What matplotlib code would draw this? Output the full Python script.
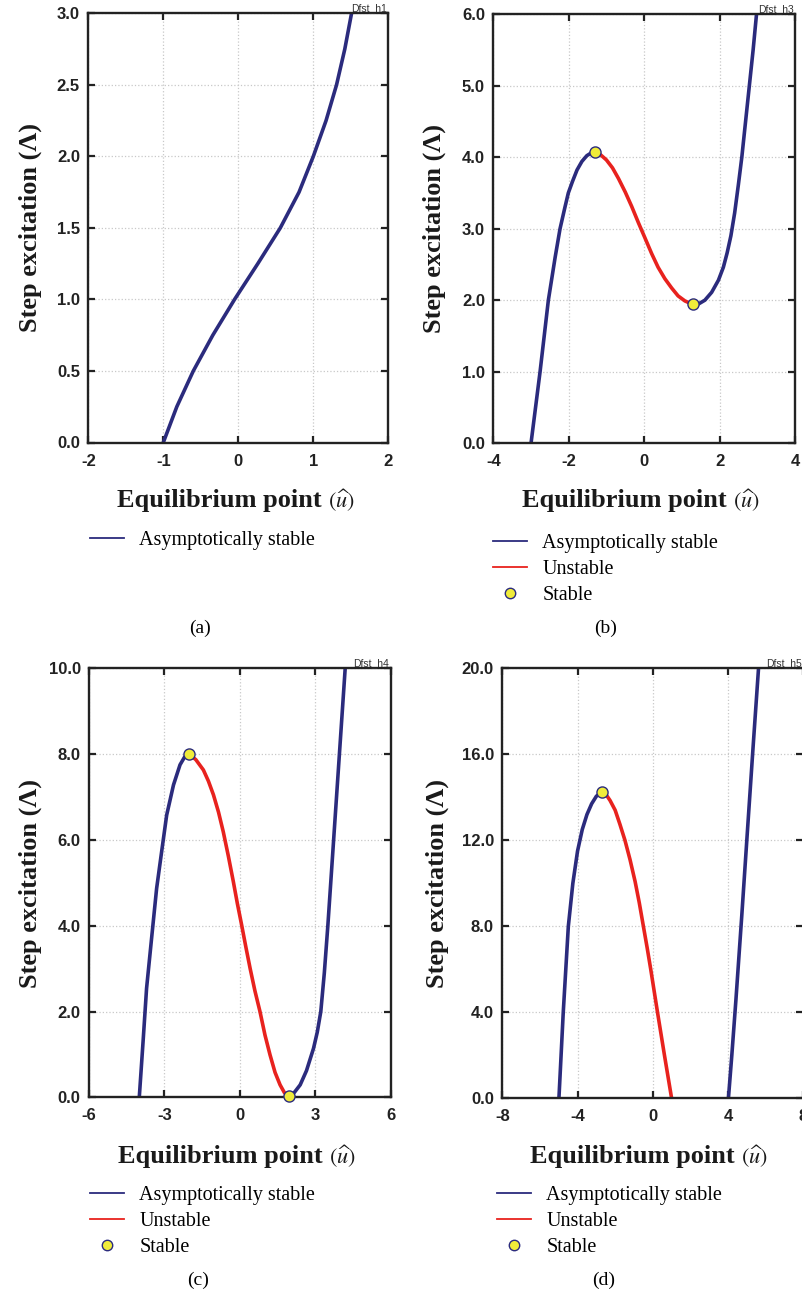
import matplotlib
matplotlib.use("Agg")
import matplotlib.pyplot as plt
from matplotlib.lines import Line2D
from matplotlib.offsetbox import TextArea, HPacker, AnchoredOffsetbox

plt.rcParams['mathtext.fontset'] = 'stix'

# ---------------- data ----------------
# (a)
a_blue_u = [-1.00, -0.82, -0.60, -0.34, -0.05, 0.26, 0.56, 0.81, 1.00, 1.17, 1.31, 1.42, 1.51]
a_blue_L = [0.00, 0.25, 0.50, 0.75, 1.00, 1.25, 1.50, 1.75, 2.00, 2.25, 2.50, 2.75, 3.00]

# (b)
b_blue1_u = [-3.00, -2.76, -2.54, -2.36, -2.23, -2.10, -2.01, -1.90, -1.78, -1.65, -1.52, -1.40, -1.30]
b_blue1_L = [0.00, 1.00, 2.00, 2.60, 3.00, 3.30, 3.50, 3.66, 3.82, 3.94, 4.02, 4.06, 4.07]
b_red_u = [-1.30, -1.15, -1.00, -0.84, -0.68, -0.50, -0.33, -0.15, 0.03, 0.20, 0.37, 0.55, 0.73, 0.90, 1.08, 1.29]
b_red_L = [4.07, 4.03, 3.96, 3.85, 3.70, 3.51, 3.31, 3.08, 2.86, 2.65, 2.46, 2.30, 2.17, 2.06, 1.99, 1.94]
b_blue2_u = [1.29, 1.45, 1.61, 1.79, 1.97, 2.10, 2.20, 2.30, 2.40, 2.50, 2.59, 2.69, 2.79, 2.89, 2.98]
b_blue2_L = [1.94, 1.95, 2.00, 2.11, 2.28, 2.46, 2.66, 2.90, 3.22, 3.62, 4.00, 4.50, 5.00, 5.50, 6.00]
b_stable_u = [-1.30, 1.29]
b_stable_L = [4.07, 1.94]

# (c)
c_blue1_u = [-4.00, -3.84, -3.71, -3.51, -3.31, -3.11, -2.91, -2.64, -2.38, -2.20, -2.02]
c_blue1_L = [0.00, 1.38, 2.54, 3.71, 4.87, 5.73, 6.58, 7.28, 7.75, 7.93, 8.00]
c_red_u = [-2.02, -1.75, -1.45, -1.25, -1.05, -0.85, -0.66, -0.46, -0.26, -0.10, 0.07,
           0.24, 0.41, 0.60, 0.80, 1.00, 1.20, 1.40, 1.60, 1.78, 1.96]
c_red_L = [8.00, 7.87, 7.63, 7.37, 7.05, 6.65, 6.19, 5.63, 5.03, 4.52, 4.02,
           3.50, 3.00, 2.48, 2.00, 1.45, 0.99, 0.58, 0.29, 0.10, 0.04]
c_blue2_u = [1.96, 2.15, 2.40, 2.65, 2.93, 3.08, 3.22, 3.36, 3.50, 3.73, 3.96, 4.19]
c_blue2_L = [0.04, 0.10, 0.29, 0.62, 1.14, 1.52, 2.00, 2.90, 4.00, 6.00, 8.00, 10.00]
c_stable_u = [-2.02, 1.96]
c_stable_L = [8.00, 0.04]

# (d)
d_blue1_u = [-4.99, -4.76, -4.49, -4.25, -4.00, -3.75, -3.50, -3.25, -3.00, -2.72]
d_blue1_L = [0.00, 4.00, 8.00, 10.00, 11.50, 12.50, 13.20, 13.70, 14.05, 14.23]
d_red_u = [-2.72, -2.50, -2.27, -2.00, -1.75, -1.48, -1.21, -0.94, -0.72, -0.50, -0.30,
           -0.11, 0.25, 0.62, 1.00]
d_red_L = [14.23, 14.15, 13.85, 13.40, 12.75, 12.00, 11.10, 10.08, 9.10, 8.00, 7.00,
           6.00, 4.00, 2.00, 0.00]
d_blue2_u = [4.02, 4.20, 4.42, 4.73, 5.02, 5.32, 5.62]
d_blue2_L = [0.00, 2.00, 4.60, 8.50, 12.30, 16.20, 20.00]
d_stable_u = [-2.72]
d_stable_L = [14.23]

# ticks
a_xt = [-2, -1, 0, 1, 2];   a_xtl = ['-2', '-1', '0', '1', '2']
a_yt = [0, 0.5, 1, 1.5, 2, 2.5, 3]; a_ytl = ['0.0', '0.5', '1.0', '1.5', '2.0', '2.5', '3.0']
b_xt = [-4, -2, 0, 2, 4];   b_xtl = ['-4', '-2', '0', '2', '4']
b_yt = [0, 1, 2, 3, 4, 5, 6]; b_ytl = ['0.0', '1.0', '2.0', '3.0', '4.0', '5.0', '6.0']
c_xt = [-6, -3, 0, 3, 6];   c_xtl = ['-6', '-3', '0', '3', '6']
c_yt = [0, 2, 4, 6, 8, 10]; c_ytl = ['0.0', '2.0', '4.0', '6.0', '8.0', '10.0']
d_xt = [-8, -4, 0, 4, 8];   d_xtl = ['-8', '-4', '0', '4', '8']
d_yt = [0, 4, 8, 12, 16, 20]; d_ytl = ['0.0', '4.0', '8.0', '12.0', '16.0', '20.0']

tags = ['Dfst_h1', 'Dfst_h3', 'Dfst_h4', 'Dfst_h5']
captions = ['(a)', '(b)', '(c)', '(d)']
lab_asym = 'Asymptotically stable'
lab_unst = 'Unstable'
lab_stab = 'Stable'

# ---------------- style ----------------
NAVY = '#2B2B7D'
RED = '#E8221E'
YEL = '#F0EC3A'
W, H = 803, 1297
fig = plt.figure(figsize=(W / 100, H / 100), dpi=100)

def pax(x0, y0, x1, y1):
    return fig.add_axes([x0 / W, 1 - y1 / H, (x1 - x0) / W, (y1 - y0) / H])

def setup(ax, xt, xtl, yt, ytl, tag):
    ax.set_xlim(xt[0], xt[-1])
    ax.set_ylim(yt[0], yt[-1])
    ax.set_xticks(xt)
    ax.set_yticks(yt)
    ax.set_xticklabels(xtl, fontfamily='Liberation Sans', fontweight='bold', fontsize=12)
    ax.set_yticklabels(ytl, fontfamily='Liberation Sans', fontweight='bold', fontsize=12)
    ax.grid(True, ls=':', color='#c8c8c8', lw=0.9)
    ax.set_axisbelow(True)
    ax.tick_params(direction='in', top=True, right=True, length=5, width=1.6, pad=6, colors='#222222')
    ax.tick_params(axis='x', pad=8)
    for s in ax.spines.values():
        s.set_linewidth(1.7)
        s.set_color('#222222')
    ax.annotate(tag, xy=(1, 1), xycoords='axes fraction', xytext=(-1, 1.5),
                textcoords='offset points', ha='right', va='baseline',
                fontsize=7.5, fontfamily='Liberation Sans', color='#333333')

def labels(ax_cx, ax_cy, ylab_x, xlab_y):
    fig.text(ylab_x / W, 1 - ax_cy / H, 'Step excitation (Λ)', rotation=90,
             ha='center', va='center', fontfamily='Liberation Serif',
             fontweight='bold', fontsize=19, color='#1a1a1a')
    t1 = TextArea('Equilibrium point', textprops=dict(fontfamily='Liberation Serif',
                  fontweight='bold', fontsize=19, color='#1a1a1a'))
    t2 = TextArea(r'$(\widehat{u})$', textprops=dict(fontsize=16, color='#1a1a1a'))
    box = HPacker(children=[t1, t2], align='baseline', pad=0, sep=5)
    anc = AnchoredOffsetbox(loc='center', child=box, pad=0, borderpad=0, frameon=False,
                            bbox_to_anchor=(ax_cx / W, 1 - xlab_y / H),
                            bbox_transform=fig.transFigure)
    fig.add_artist(anc)

def legend(ax, x, ytop, full=True):
    h = [Line2D([], [], color=NAVY, lw=1.3)]
    l = [lab_asym]
    if full:
        h += [Line2D([], [], color=RED, lw=1.3),
              Line2D([], [], ls='none', marker='o', ms=7.5, mfc=YEL, mec=NAVY, mew=1.0)]
        l += [lab_unst, lab_stab]
    ax.legend(h, l, loc='upper left', bbox_to_anchor=(x / W, 1 - ytop / H),
              bbox_transform=fig.transFigure, frameon=False, borderpad=0,
              borderaxespad=0, handlelength=1.7, handletextpad=0.75, labelspacing=0.35,
              prop=dict(family='Liberation Serif', size=14.5))

LW = 2.6

# (a)
ax = pax(88.3, 13.3, 388.3, 442.5)
ax.plot(a_blue_u, a_blue_L, color=NAVY, lw=LW, solid_joinstyle='round')
setup(ax, a_xt, a_xtl, a_yt, a_ytl, tags[0])
labels(236, 228, 30, 500)
legend(ax, 90, 531, full=False)
fig.text(200 / W, 1 - 628 / H, captions[0], ha='center', va='center',
         fontfamily='Liberation Serif', fontsize=14)

# (b)
ax = pax(493.3, 14, 795, 443.3)
ax.plot(b_blue1_u, b_blue1_L, color=NAVY, lw=LW, solid_joinstyle='round')
ax.plot(b_red_u, b_red_L, color=RED, lw=LW, solid_joinstyle='round')
ax.plot(b_blue2_u, b_blue2_L, color=NAVY, lw=LW, solid_joinstyle='round')
ax.plot(b_stable_u, b_stable_L, ls='none', marker='o', ms=8, mfc=YEL, mec=NAVY,
        mew=1.0, zorder=5, clip_on=False)
setup(ax, b_xt, b_xtl, b_yt, b_ytl, tags[1])
labels(641, 228.5, 434, 500)
legend(ax, 493, 534)
fig.text(606 / W, 1 - 628 / H, captions[1], ha='center', va='center',
         fontfamily='Liberation Serif', fontsize=14)

# (c)
ax = pax(89, 668.3, 390.7, 1097.3)
ax.plot(c_blue1_u, c_blue1_L, color=NAVY, lw=LW, solid_joinstyle='round')
ax.plot(c_red_u, c_red_L, color=RED, lw=LW, solid_joinstyle='round')
ax.plot(c_blue2_u, c_blue2_L, color=NAVY, lw=LW, solid_joinstyle='round')
ax.plot(c_stable_u, c_stable_L, ls='none', marker='o', ms=8, mfc=YEL, mec=NAVY,
        mew=1.0, zorder=5, clip_on=False)
setup(ax, c_xt, c_xtl, c_yt, c_ytl, tags[2])
labels(237, 883, 30, 1156)
legend(ax, 90, 1186)
fig.text(198 / W, 1 - 1280 / H, captions[2], ha='center', va='center',
         fontfamily='Liberation Serif', fontsize=14)

# (d)
ax = pax(502.3, 668.3, 803.3, 1098.3)
ax.plot(d_blue1_u, d_blue1_L, color=NAVY, lw=LW, solid_joinstyle='round')
ax.plot(d_red_u, d_red_L, color=RED, lw=LW, solid_joinstyle='round')
ax.plot(d_blue2_u, d_blue2_L, color=NAVY, lw=LW, solid_joinstyle='round')
ax.plot(d_stable_u, d_stable_L, ls='none', marker='o', ms=8, mfc=YEL, mec=NAVY,
        mew=1.0, zorder=5, clip_on=False)
setup(ax, d_xt, d_xtl, d_yt, d_ytl, tags[3])
labels(649, 883, 437, 1156)
legend(ax, 497, 1186)
fig.text(604 / W, 1 - 1280 / H, captions[3], ha='center', va='center',
         fontfamily='Liberation Serif', fontsize=14)

fig.savefig('out.png', dpi=100)
